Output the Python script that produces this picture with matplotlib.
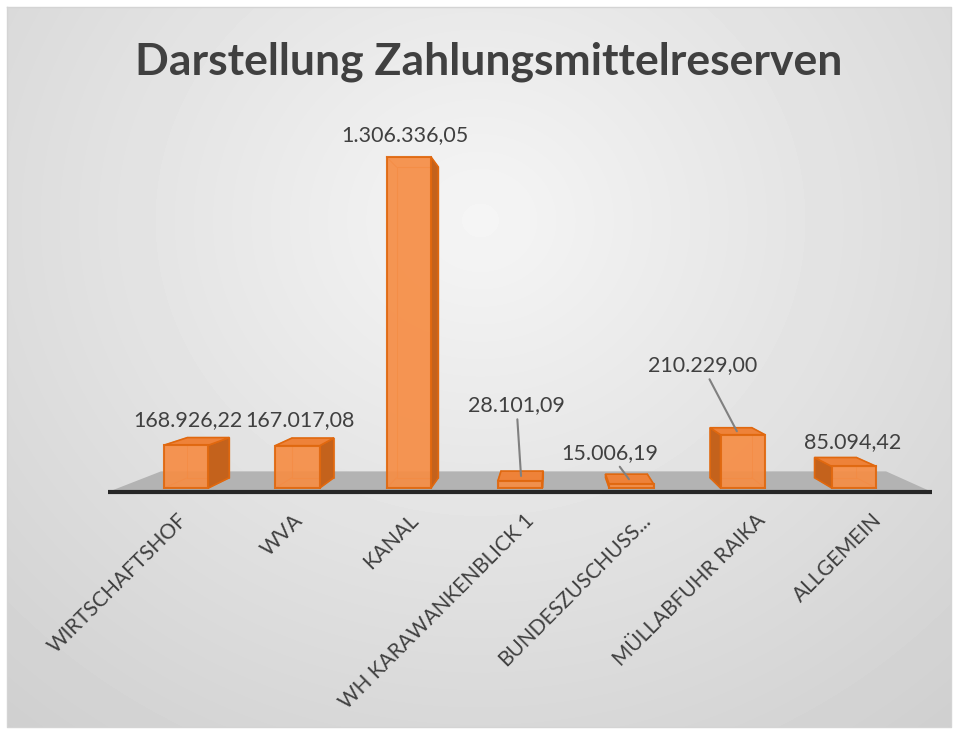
import numpy as np
import matplotlib.pyplot as plt
from matplotlib.patches import Polygon

plt.rcParams['font.family'] = ['Lato', 'DejaVu Sans']

#%% data
categories = ['WIRTSCHAFTSHOF', 'WVA', 'KANAL', 'WH KARAWANKENBLICK 1',
              'BUNDESZUSCHUSS...', 'MÜLLABFUHR RAIKA', 'ALLGEMEIN']
values = [168926.22, 167017.08, 1306336.05, 28101.09, 15006.19, 210229.00, 85094.42]
title = 'Darstellung Zahlungsmittelreserven'

# label placement (offset in points from bar top) and leader lines
label_offsets = [(-7, 15.4), (-4, 15.7), (-6, 19.4), (-3.3, 51), (-14, 19), (-25, 47.5), (5.4, 14.4)]
leader = [False, False, False, True, True, True, False]


def de_fmt(v):
    s = f"{v:,.2f}"
    return s.replace(',', 'X').replace('.', ',').replace('X', '.')


#%% perspective settings (in data units)
XMIN, XMAX = -0.61, 6.62
VX, VY = 3.263, 662700.0   # vanishing point
S_FRONT, S_BACK = 0.977, 0.917
S_MID = 0.947
S_FLOOR = 0.88
HW = 0.2

TXT = '#404040'
FRONT = '#F68D45'
SIDE = '#C4621C'
TOP = '#EE8239'
EDGE = '#E0680F'


def proj(x, y, s):
    return (VX + (x - VX) * s, VY + (y - VY) * s)


fig = plt.figure(figsize=(9.58, 7.33), dpi=100)

# background with radial gradient
ax_bg = fig.add_axes([0, 0, 1, 1])
ax_bg.set_xlim(0, 958)
ax_bg.set_ylim(733, 0)
ax_bg.axis('off')
gx, gy = np.meshgrid(np.arange(7, 952), np.arange(7, 728))
r = np.sqrt((gx - 480) ** 2 + ((gy - 220) * 1.1) ** 2)
g = np.clip(245 - 0.052 * r, 0, 255) / 255.0
ax_bg.imshow(g, cmap='gray', vmin=0, vmax=1, extent=[7, 952, 728, 7], aspect='auto')
ax_bg.plot([7, 951, 951, 7, 7], [7, 7, 727, 727, 7], color='#D4D4D4', lw=1)

# main axes: x = category, y = value
ax = fig.add_axes([108 / 958, 241 / 733, 824 / 958, 415 / 733])
ax.set_xlim(XMIN, XMAX)
ax.set_ylim(0, 1.6e6)
ax.axis('off')
ax.patch.set_alpha(0)

# floor
floor = [proj(XMIN, 0, 1), proj(XMAX, 0, 1), proj(XMAX, 0, S_FLOOR), proj(XMIN, 0, S_FLOOR)]
ax.add_patch(Polygon(floor, closed=True, facecolor='#B3B3B3', edgecolor='none', zorder=1, clip_on=False))
ax.plot([XMIN, XMAX], [0, 0], color='#262626', lw=3, zorder=6, solid_capstyle='butt', clip_on=False)

# bars
for k, v in enumerate(values):
    x0, x1 = k - HW, k + HW
    fb = [proj(x0, 0, S_FRONT), proj(x1, 0, S_FRONT), proj(x1, v, S_FRONT), proj(x0, v, S_FRONT)]
    bb = [proj(x0, 0, S_BACK), proj(x1, 0, S_BACK), proj(x1, v, S_BACK), proj(x0, v, S_BACK)]
    # hidden edges (shine through)
    xs, ys = zip(*(bb + [bb[0]]))
    ax.plot(xs, ys, color=EDGE, lw=0.8, alpha=0.6, zorder=2)
    for a, b in zip(fb, bb):
        ax.plot([a[0], b[0]], [a[1], b[1]], color=EDGE, lw=0.8, alpha=0.6, zorder=2)
    if x1 < VX:
        side = [fb[1], fb[2], bb[2], bb[1]]
        ax.add_patch(Polygon(side, closed=True, facecolor=SIDE, edgecolor=EDGE, lw=1.2, zorder=3))
    if x0 > VX:
        side = [fb[0], fb[3], bb[3], bb[0]]
        ax.add_patch(Polygon(side, closed=True, facecolor=SIDE, edgecolor=EDGE, lw=1.2, zorder=3))
    if v < VY:
        top = [fb[3], fb[2], bb[2], bb[3]]
        ax.add_patch(Polygon(top, closed=True, facecolor=TOP, edgecolor=EDGE, lw=1.2, zorder=4))
    ax.add_patch(Polygon(fb, closed=True, facecolor=FRONT, edgecolor=EDGE, lw=1.5, alpha=0.92, zorder=5))

    # data label
    px, py = proj(k, v, S_MID)
    arrow = dict(arrowstyle='-', color='#808080', lw=1.5, shrinkA=1, shrinkB=0) if leader[k] else None
    ax.annotate(de_fmt(v), xy=(px, py), xytext=label_offsets[k], textcoords='offset points',
                ha='center', va='center', fontsize=15.5, color=TXT, zorder=7,
                arrowprops=arrow, annotation_clip=False)

    # category label
    ax.annotate(categories[k], xy=(k, 0), xytext=(5 + 1.2 * k, -18), textcoords='offset points',
                ha='right', va='center', rotation=45, rotation_mode='anchor',
                fontsize=15, color=TXT, annotation_clip=False)

fig.text(489 / 958, 1 - 62 / 733, title, ha='center', va='center',
         fontsize=32, fontweight='bold', color=TXT)

fig.savefig('out.png', dpi=100)
